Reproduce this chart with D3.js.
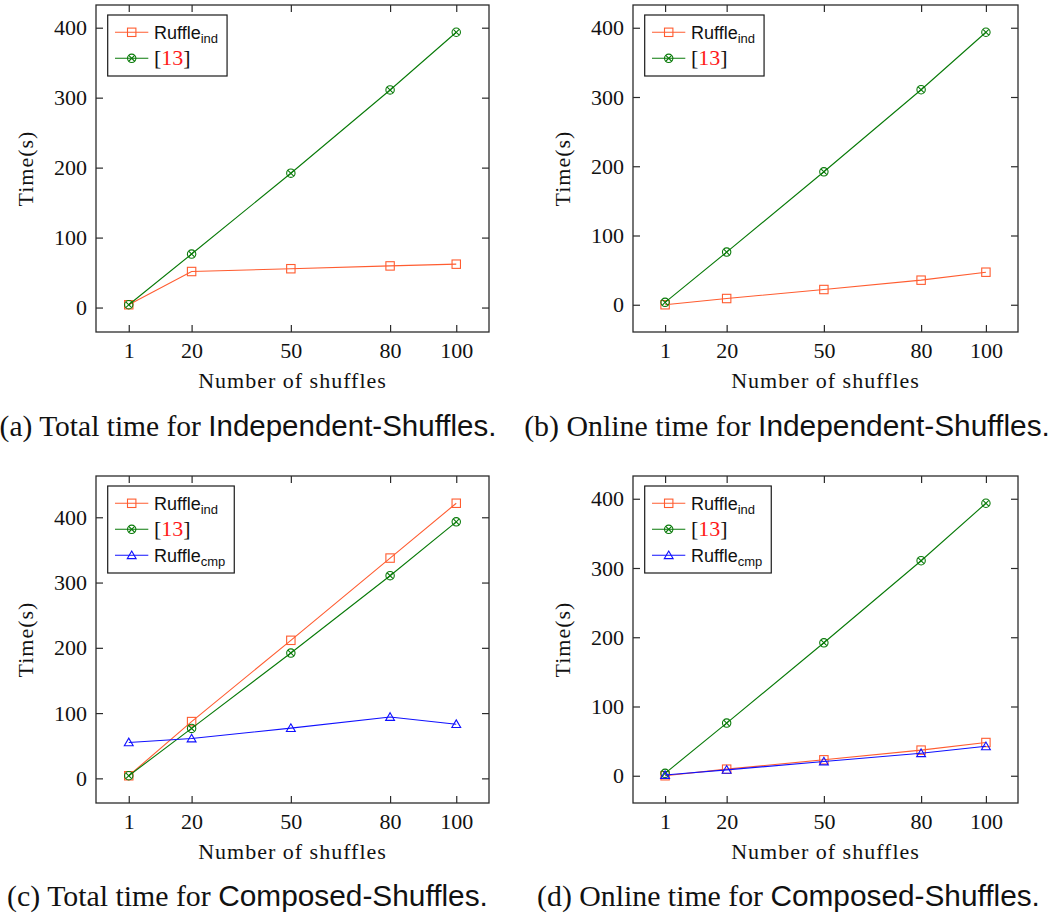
<!DOCTYPE html>
<html>
<head>
<meta charset="utf-8">
<script src="https://cdn.jsdelivr.net/npm/d3@7"></script>
<style>
  body { margin: 0; background: #fff; }
  svg { display: block; }
</style>
</head>
<body>
<svg id="chart" width="1054" height="921"></svg>
<script>
// x values shared by every panel
const shuffles = [1, 20, 50, 80, 100];
const yTicks = [0, 100, 200, 300, 400];

// (a) total time, independent shuffles
const totalIndRuffle = [4, 51.5, 55.5, 59.5, 62];
const totalIndRef13 = [4, 76.5, 192, 311, 393.5];
// (b) online time, independent shuffles
const onlineIndRuffle = [0, 9, 22, 35.5, 47];
const onlineIndRef13 = [3.5, 76, 192, 310.5, 393.5];
// (c) total time, composed shuffles
const totalCmpRuffleInd = [4, 87, 211.5, 337.5, 421.5];
const totalCmpRef13 = [4, 76.5, 192, 310.5, 393];
const totalCmpRuffleCmp = [55, 61, 77, 94, 83];
// (d) online time, composed shuffles
const onlineCmpRuffleInd = [0, 9.5, 23, 37, 48];
const onlineCmpRef13 = [3.5, 76, 192, 310.5, 393.5];
const onlineCmpRuffleCmp = [1, 8.5, 20.5, 32.5, 42.5];

const ORANGE = '#ff5c30', GREEN = '#087a08', BLUE = '#1010ff';
const SERIF = '"Liberation Serif", "DejaVu Serif", serif';
const SANS = '"Liberation Sans", Arial, sans-serif';

const ruffleInd = v => ({ label: 'Ruffle', sub: 'ind', color: ORANGE, mark: 'square', values: v });
const ref13 = v => ({ label: '13', ref: true, color: GREEN, mark: 'otimes', values: v });
const ruffleCmp = v => ({ label: 'Ruffle', sub: 'cmp', color: BLUE, mark: 'triangle', values: v });

const panels = [
    { box: [96, 5, 489, 332], series: [ruffleInd(totalIndRuffle), ref13(totalIndRef13)],
      caption: ['(a) Total time for ', 'Independent-Shuffles.'], cap: [248, 436, 497] },
    { box: [633, 5, 1018, 332], series: [ruffleInd(onlineIndRuffle), ref13(onlineIndRef13)],
      caption: ['(b) Online time for ', 'Independent-Shuffles.'], cap: [787, 436, 526] },
    { box: [96, 476, 489, 803], series: [ruffleInd(totalCmpRuffleInd), ref13(totalCmpRef13), ruffleCmp(totalCmpRuffleCmp)],
      caption: ['(c) Total time for ', 'Composed-Shuffles.'], cap: [247.5, 906, 481] },
    { box: [633, 476, 1018, 803], series: [ruffleInd(onlineCmpRuffleInd), ref13(onlineCmpRef13), ruffleCmp(onlineCmpRuffleCmp)],
      caption: ['(d) Online time for ', 'Composed-Shuffles.'], cap: [788.5, 906, 503] }
];

const svg = d3.select('#chart');

function drawMark(g, type, color, x, y) {
    const s = 4.2;
    if (type === 'square') {
        g.append('rect').attr('x', x - s).attr('y', y - s).attr('width', 2 * s).attr('height', 2 * s)
            .attr('fill', 'none').attr('stroke', color).attr('stroke-width', 1.1);
    } else if (type === 'otimes') {
        g.append('circle').attr('cx', x).attr('cy', y).attr('r', s)
            .attr('fill', 'none').attr('stroke', color).attr('stroke-width', 1.1);
        const d = s * 0.7;
        g.append('path').attr('d', `M${x - d},${y - d}L${x + d},${y + d}M${x - d},${y + d}L${x + d},${y - d}`)
            .attr('stroke', color).attr('stroke-width', 1.1);
    } else {
        const t = d3.symbol(d3.symbolTriangle, 34)();
        g.append('path').attr('d', t).attr('transform', `translate(${x},${y + 0.8})`)
            .attr('fill', 'none').attr('stroke', color).attr('stroke-width', 1.1);
    }
}

panels.forEach(p => {
    const [left, top, right, bottom] = p.box;
    const all = p.series.flatMap(s => s.values);
    const lo = d3.min(all), hi = d3.max(all), pad = (hi - lo) * 0.1;
    const xr = d3.extent(shuffles), xpad = (xr[1] - xr[0]) * 0.1;

    const x = d3.scaleLinear().domain([xr[0] - xpad, xr[1] + xpad]).range([left, right]);
    const y = d3.scaleLinear().domain([lo - pad, hi + pad]).range([bottom, top]);

    const g = svg.append('g');

    // inner ticks on all four sides
    const tick = 7;
    const axes = [
        d3.axisBottom(x).tickValues(shuffles).tickSizeInner(-tick).tickSizeOuter(0).tickPadding(10),
        d3.axisTop(x).tickValues(shuffles).tickSizeInner(-tick).tickSizeOuter(0).tickFormat(''),
        d3.axisLeft(y).tickValues(yTicks).tickSizeInner(-tick).tickSizeOuter(0).tickPadding(9),
        d3.axisRight(y).tickValues(yTicks).tickSizeInner(-tick).tickSizeOuter(0).tickFormat('')
    ];
    const at = [`0,${bottom}`, `0,${top}`, `${left},0`, `${right},0`];
    axes.forEach((a, i) => {
        const ag = g.append('g').attr('transform', `translate(${at[i]})`).call(a);
        ag.select('.domain').remove();
        ag.selectAll('line').attr('stroke', '#2b2b2b').attr('stroke-width', 1.2);
        ag.selectAll('text').attr('font-family', SERIF).attr('font-size', 22).attr('fill', '#111');
    });

    g.append('rect').attr('x', left).attr('y', top).attr('width', right - left).attr('height', bottom - top)
        .attr('fill', 'none').attr('stroke', '#2b2b2b').attr('stroke-width', 1.3);

    // series
    const line = d3.line().x((d, i) => x(shuffles[i])).y(d => y(d));
    p.series.forEach(s => {
        g.append('path').datum(s.values).attr('d', line)
            .attr('fill', 'none').attr('stroke', s.color).attr('stroke-width', 1.1);
        s.values.forEach((v, i) => drawMark(g, s.mark, s.color, x(shuffles[i]), y(v)));
    });

    // axis titles
    g.append('text').attr('x', (left + right) / 2).attr('y', bottom + 56)
        .attr('text-anchor', 'middle').attr('font-family', SERIF).attr('font-size', 22)
        .attr('letter-spacing', 1).attr('fill', '#111')
        .text('Number of shuffles');
    g.append('text').attr('transform', `translate(${left - 63},${(top + bottom) / 2}) rotate(-90)`)
        .attr('text-anchor', 'middle').attr('font-family', SERIF).attr('font-size', 22)
        .attr('letter-spacing', 1).attr('fill', '#111')
        .text('Time(s)');

    // legend
    const lx = left + 11.7, ly = top + 10, row = 26;
    const lg = g.append('g');
    const box = lg.append('rect').attr('x', lx).attr('y', ly).attr('height', 9 + row * p.series.length)
        .attr('fill', '#fff').attr('stroke', '#1a1a1a').attr('stroke-width', 1.2);
    let maxW = 0;
    p.series.forEach((s, i) => {
        const cy = ly + 17.3 + i * row;
        lg.append('line').attr('x1', lx + 7.3).attr('x2', lx + 40.6).attr('y1', cy).attr('y2', cy)
            .attr('stroke', s.color).attr('stroke-width', 1.1);
        drawMark(lg, s.mark, s.color, lx + 24, cy);
        const t = lg.append('text').attr('x', lx + 46.3).attr('y', cy + 6.5).attr('fill', '#111');
        if (s.ref) {
            t.attr('font-family', SERIF).attr('font-size', 22);
            t.append('tspan').text('[');
            t.append('tspan').attr('fill', '#ff1a1a').text(s.label);
            t.append('tspan').text(']');
        } else {
            t.attr('font-family', SANS).attr('font-size', 18);
            t.append('tspan').text(s.label);
            t.append('tspan').attr('font-size', 13).attr('dy', 4).text(s.sub);
        }
        maxW = Math.max(maxW, t.node().getComputedTextLength());
    });
    box.attr('width', 46.3 + maxW + 9);

    // caption: serif lead-in followed by a sans-serif name, fitted to the reference width
    const [cx, cyb, cw] = p.cap;
    const cap = g.append('text').attr('x', cx).attr('y', cyb).attr('text-anchor', 'middle')
        .attr('font-size', 25).attr('fill', '#111');
    cap.append('tspan').attr('font-family', SERIF).text(p.caption[0]);
    cap.append('tspan').attr('font-family', SANS).text(p.caption[1]);
    const w = cap.node().getComputedTextLength();
    cap.attr('font-size', 25 * cw / w);
});
</script>
</body>
</html>
